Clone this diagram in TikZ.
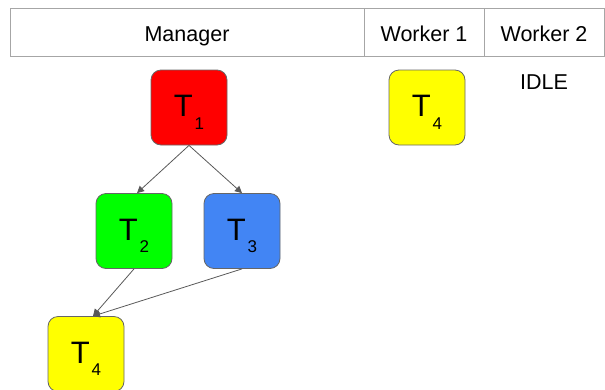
\documentclass[tikz,border=0pt]{standalone}
\usepackage{fontspec}
\setmainfont{Liberation Sans}
\usetikzlibrary{arrows.meta}

\definecolor{tred}{HTML}{FF0000}
\definecolor{tgreen}{HTML}{00FF00}
\definecolor{tblue}{HTML}{4285F4}
\definecolor{tyellow}{HTML}{FFFF00}
\definecolor{edgegray}{HTML}{666666}
\definecolor{linegray}{HTML}{595959}
\definecolor{cellgray}{HTML}{A6A6A6}

\newcommand{\task}[1]{T\kern2pt\raisebox{-12.5pt}{\fontsize{17}{17}\selectfont #1}}

\tikzset{
  cell/.style={draw=cellgray, line width=0.8pt, minimum height=48pt, inner sep=0pt,
    text height=19pt, text depth=0pt, font=\fontsize{21.5}{24}\selectfont},
  taskbox/.style={draw=edgegray, line width=0.8pt, rounded corners=10pt,
    minimum width=76pt, minimum height=75pt, inner sep=0pt,
    text height=18.4pt, text depth=0pt, font=\fontsize{31}{34}\selectfont},
  dep/.style={draw=linegray, line width=0.8pt, -{Triangle[length=7pt,width=7pt]}}
}

\begin{document}
\begin{tikzpicture}[x=1pt,y=-1pt]
\useasboundingbox (0,0) rectangle (605,389);

% header row
\node [cell, minimum width=354pt] (mgr) at (187,32) {Manager};
\node [cell, minimum width=120pt] (w1) at (424,32) {Worker 1};
\node [cell, minimum width=120pt] (w2) at (544,32) {Worker 2};

% task graph
\node [taskbox, fill=tred] (t1) at (189,107.5) {\task{1}};
\node [taskbox, fill=tgreen] (t2) at (134,231) {\task{2}};
\node [taskbox, fill=tblue] (t3) at (242,231) {\task{3}};
\node [taskbox, fill=tyellow] (t4) at (86,354) {\task{4}};

\draw [dep] (t1.south) -- ([xshift=3pt]t2.north);
\draw [dep] (t1.south) -- (t3.north);
\draw [dep] (t2.south) -- ([xshift=7pt]t4.north);
\draw [dep] (t3.south) -- ([xshift=7pt]t4.north);

% workers
\node [taskbox, fill=tyellow] (w1t4) at (427,107.5) {\task{4}};
\node [anchor=base, inner sep=0pt, font=\fontsize{21.5}{24}\selectfont] (idle) at (544,89) {IDLE};
\end{tikzpicture}
\end{document}
